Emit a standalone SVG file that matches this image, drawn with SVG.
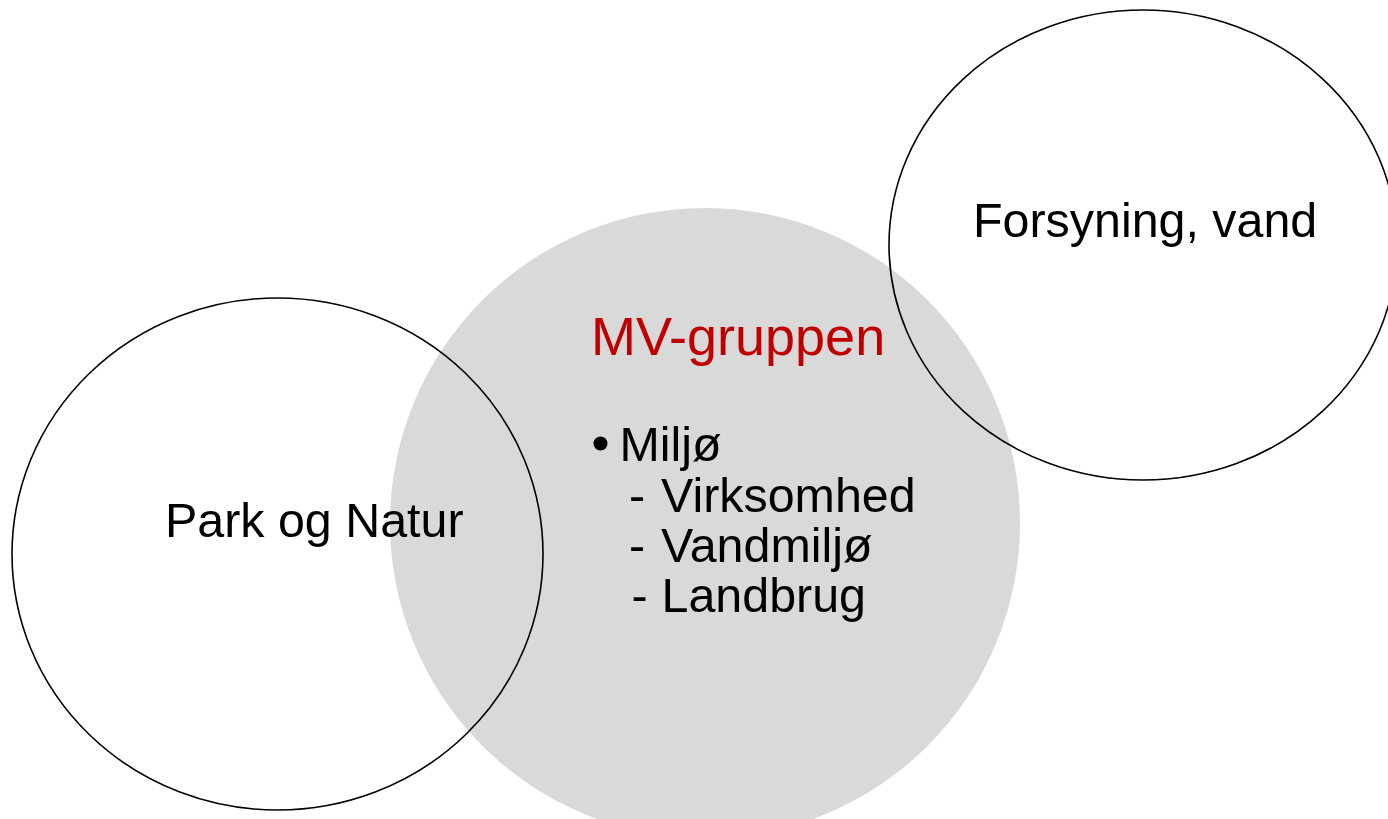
<svg xmlns="http://www.w3.org/2000/svg" width="1388" height="819" viewBox="0 0 1388 819">
<style>
.ring{fill:none;stroke:#000;stroke-width:1.6}
.t{font-family:"Liberation Sans",Arial,sans-serif;font-size:48.4px;fill:#000}
.title{font-family:"Liberation Sans",Arial,sans-serif;font-size:54px;fill:#C00000}
</style>
<rect width="1388" height="819" fill="#fff"/>
<g id="mv-gruppen">
<circle cx="705" cy="523" r="315" fill="#d9d9d9"/>
</g>
<g id="park-og-natur">
<ellipse class="ring" cx="277.5" cy="554" rx="265.5" ry="256"/>
<text class="t" x="165" y="537">Park og Natur</text>
</g>
<g id="forsyning-vand">
<ellipse class="ring" cx="1143" cy="245" rx="254" ry="235"/>
<text class="t" x="973" y="237">Forsyning, vand</text>
</g>
<g id="mv-gruppen-text">
<text class="title" x="591" y="355">MV-gruppen</text>
<circle cx="600.5" cy="443.5" r="7" fill="#000"/>
<text class="t" x="619.5" y="460.5">Miljø</text>
<text class="t" x="629" y="511.5">-</text>
<text class="t" x="661" y="511.5">Virksomhed</text>
<text class="t" x="629" y="561.5">-</text>
<text class="t" x="661" y="561.5">Vandmiljø</text>
<text class="t" x="631.5" y="612">-</text>
<text class="t" x="661.5" y="612">Landbrug</text>
</g>
<g id="connectors"></g>
</svg>
